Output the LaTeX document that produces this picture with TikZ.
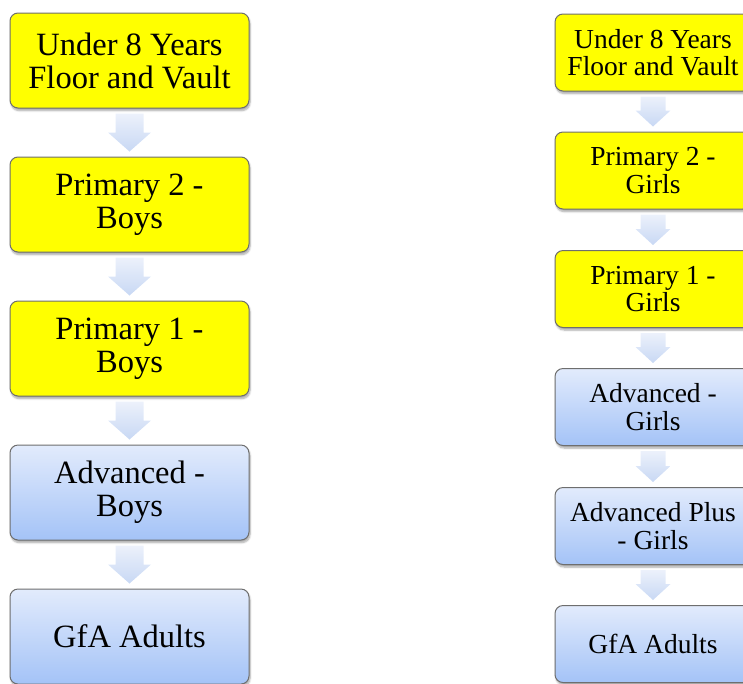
\documentclass[tikz,border=0pt]{standalone}
\usepackage{fontspec}
\setmainfont{Liberation Serif}
\usetikzlibrary{shadows.blur,calc}
\definecolor{boxyellow}{RGB}{255,255,0}
\definecolor{boxedge}{RGB}{110,110,110}
\definecolor{bluetop}{RGB}{226,235,252}
\definecolor{bluebot}{RGB}{164,195,247}
\definecolor{arrtop}{RGB}{236,241,251}
\definecolor{arrbot}{RGB}{200,216,244}
\tikzset{
  basebox/.style={draw=boxedge, line width=1pt, rounded corners=8pt, align=center,
    inner sep=0pt, blur shadow={shadow xshift=1pt, shadow yshift=-2.5pt, shadow blur steps=6, shadow opacity=35}},
  bigbox/.style={basebox, minimum width=239pt, minimum height=95pt, font=\fontsize{32.5}{33}\selectfont},
  smallbox/.style={basebox, minimum width=196pt, minimum height=77pt, font=\fontsize{27.5}{27.5}\selectfont},
  yellowbox/.style={fill=boxyellow},
  bluebox/.style={top color=bluetop, bottom color=bluebot},
  flowarrow/.style={top color=arrtop, bottom color=arrbot, draw=none}
}
% #1 upper node, #2 lower node, #3 half shaft, #4 half head, #5 head length
\newcommand{\flowarr}[5]{%
  \path[flowarrow] let \p1=(#1.south), \p2=(#2.north) in
    (\x1-#3,\y1-5) -- (\x1+#3,\y1-5) -- (\x1+#3,\y2+5+#5) -- (\x1+#4,\y2+5+#5)
    -- (\x1,\y2+5) -- (\x1-#4,\y2+5+#5) -- (\x1-#3,\y2+5+#5) -- cycle;}
\begin{document}
\begin{tikzpicture}[x=1pt,y=1pt]
\useasboundingbox (0,0) rectangle (743,-683);
% left column
\node[bigbox,yellowbox] (l1) at (129.5,-60.5) {Under 8 Years\\Floor and Vault};
\node[bigbox,yellowbox] (l2) at (129.5,-204.5) {Primary 2 -\\Boys};
\node[bigbox,yellowbox] (l3) at (129.5,-348.5) {Primary 1 -\\Boys};
\node[bigbox,bluebox] (l4) at (129.5,-492.5) {Advanced -\\Boys};
\node[bigbox,bluebox] (l5) at (129.5,-636.5) {GfA Adults};
\flowarr{l1}{l2}{14}{21.5}{19}
\flowarr{l2}{l3}{14}{21.5}{19}
\flowarr{l3}{l4}{14}{21.5}{19}
\flowarr{l4}{l5}{14}{21.5}{19}
% right column
\node[smallbox,yellowbox] (r1) at (653,-52.5) {Under 8 Years\\Floor and Vault};
\node[smallbox,yellowbox] (r2) at (653,-170.5) {Primary 2 -\\Girls};
\node[smallbox,yellowbox] (r3) at (653,-289) {Primary 1 -\\Girls};
\node[smallbox,bluebox] (r4) at (653,-407) {Advanced -\\Girls};
\node[smallbox,bluebox] (r5) at (653,-526) {Advanced Plus\\- Girls};
\node[smallbox,bluebox] (r6) at (653,-644) {GfA Adults};
\flowarr{r1}{r2}{12.5}{17.5}{16}
\flowarr{r2}{r3}{12.5}{17.5}{16}
\flowarr{r3}{r4}{12.5}{17.5}{16}
\flowarr{r4}{r5}{12.5}{17.5}{16}
\flowarr{r5}{r6}{12.5}{17.5}{16}
\end{tikzpicture}
\end{document}
